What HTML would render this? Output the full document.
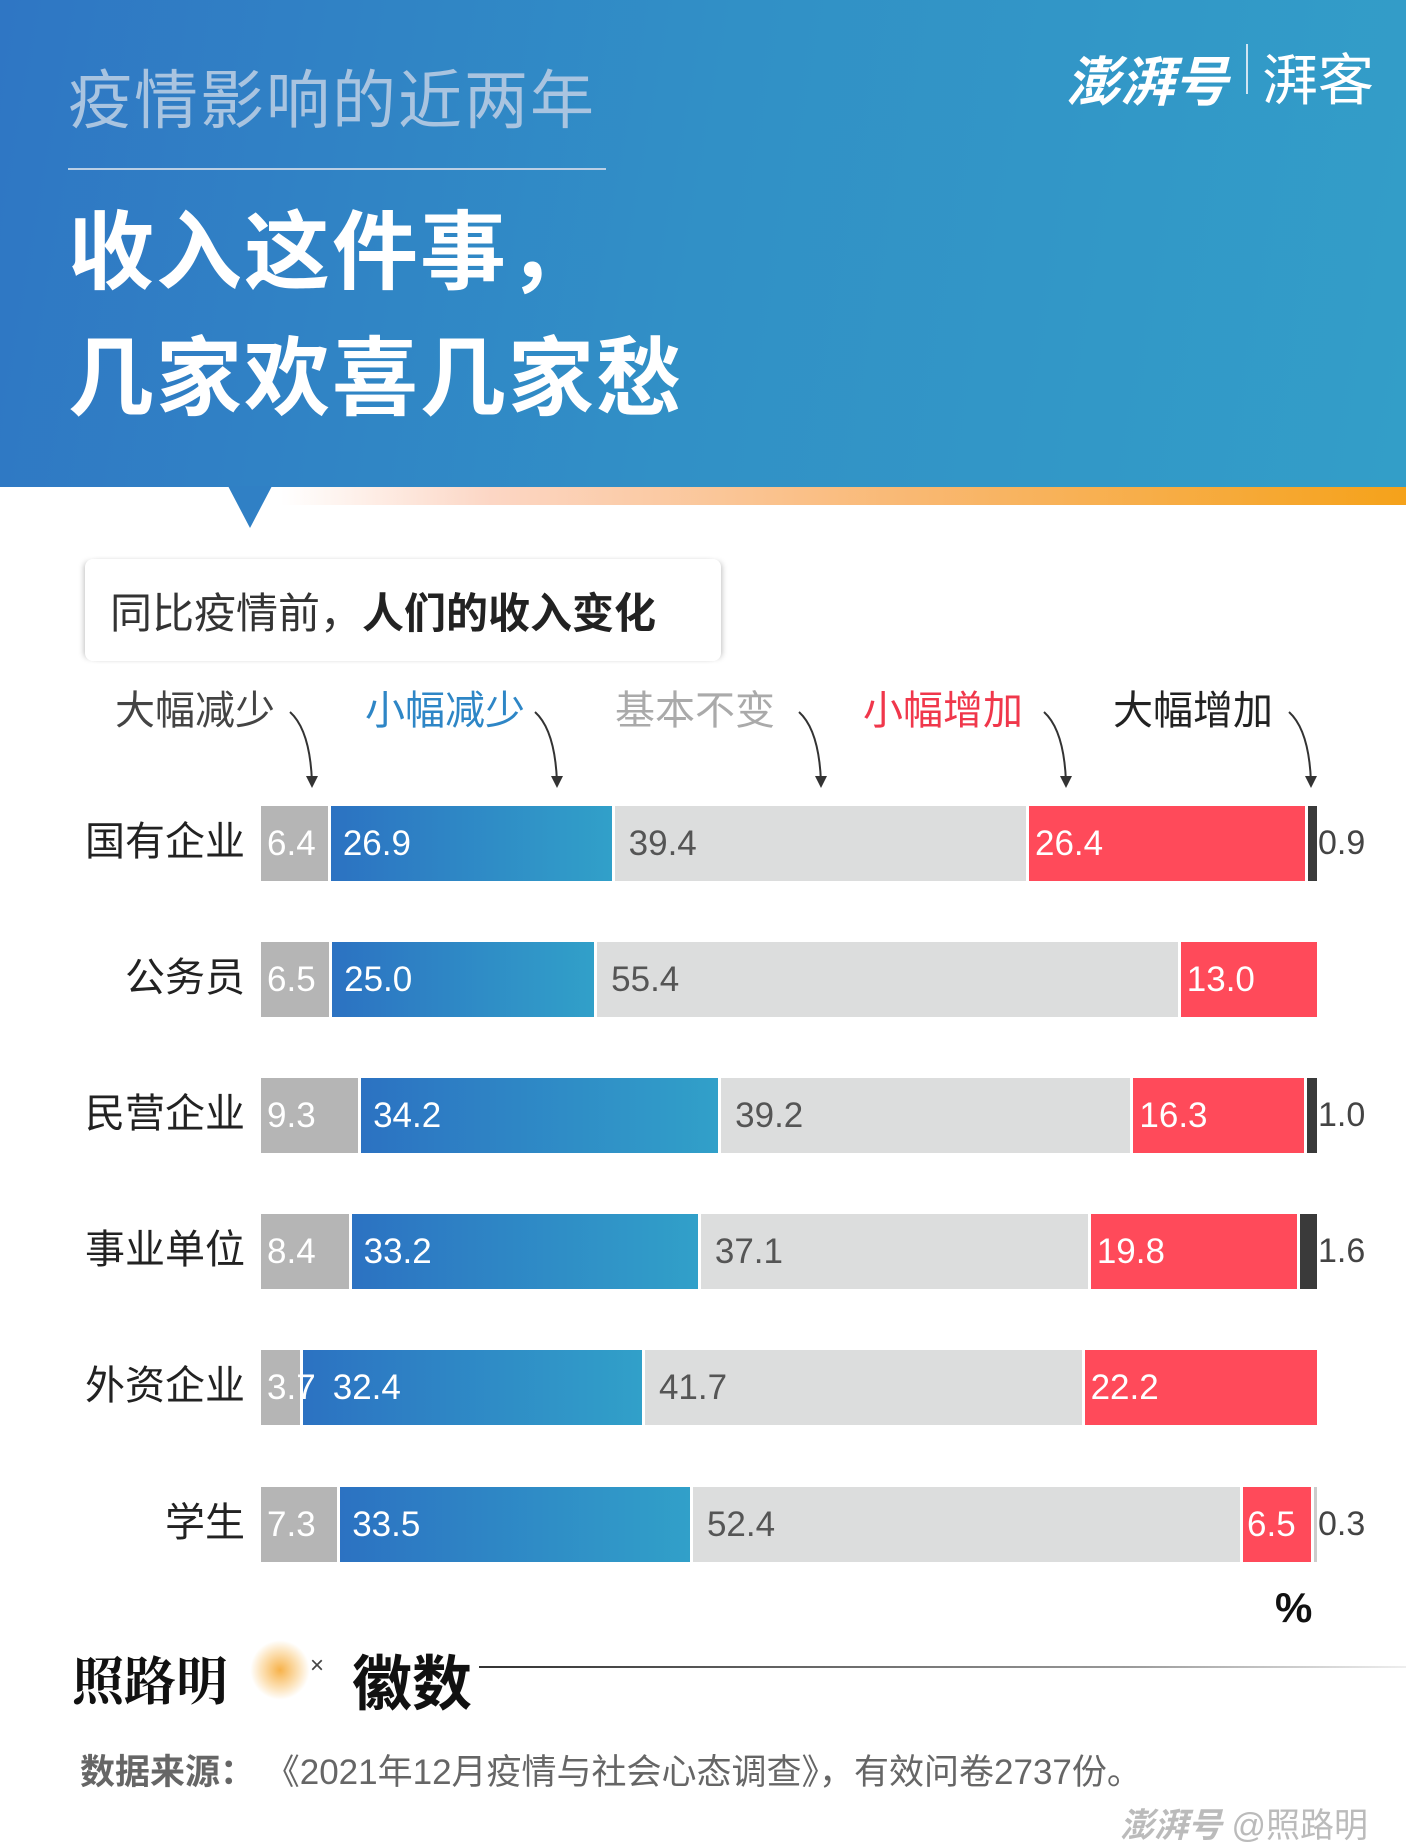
<!DOCTYPE html>
<html><head><meta charset="utf-8"><style>
*{margin:0;padding:0;box-sizing:border-box}
body{width:1406px;height:1847px;position:relative;background:#fff;font-family:"Liberation Sans","Noto Sans CJK SC",sans-serif;overflow:hidden}
.hdr{position:absolute;left:0;top:0;width:1406px;height:487px;background:linear-gradient(100deg,#2f76c4 0%,#3190c6 50%,#339ec8 100%)}
.strip{position:absolute;left:0;top:487px;width:1406px;height:18px;background:linear-gradient(90deg,#fff 0%,#fff 20%,#fcd6c4 35%,#f9b872 65%,#f5a21a 100%)}
.tri{position:absolute;left:228px;top:486px;width:0;height:0;border-left:22px solid transparent;border-right:22px solid transparent;border-top:42px solid #3080c5}
.t{position:absolute;white-space:nowrap}
.row{position:absolute;left:261px;width:1056px;height:75px;display:flex}
.s{height:100%;flex-basis:0;margin-right:3px;position:relative;color:#fff;font-size:35px;line-height:75px;overflow:visible;white-space:nowrap;min-width:0}
.s span{position:absolute;left:6px;top:0;z-index:2}
.g1{background:#b5b5b5}
.bl{background:linear-gradient(90deg,#2c72c2,#31a0c9)}
.bl span{left:12px}
.g2{background:#dcdddd;color:#555}
.g2 span{left:14px}
.r{background:#ff4a5a}
.d{background:#3a3a3a}
.cat{position:absolute;right:1161px;font-size:40px;color:#222;line-height:75px}
.out{position:absolute;left:1318px;font-size:34px;color:#444;line-height:75px}
</style></head><body>
<div class="hdr"></div>
<div class="strip"></div>
<div class="tri"></div>
<div class="t" style="left:68px;top:50px;font-size:64px;color:#a9c4e0;letter-spacing:2px">疫情影响的近两年</div>
<div style="position:absolute;left:68px;top:168px;width:538px;height:2px;background:#b9cfe6"></div>
<div class="t" style="left:68px;top:182px;font-size:86px;font-weight:bold;color:#fff;letter-spacing:2px">收入这件事，</div>
<div class="t" style="left:68px;top:308px;font-size:86px;font-weight:bold;color:#fff;letter-spacing:2px">几家欢喜几家愁</div>
<div class="t" style="left:1066px;top:38px;font-size:54px;font-weight:bold;font-style:italic;color:#fff">澎湃号</div>
<div style="position:absolute;left:1246px;top:44px;width:2px;height:50px;background:#d0e4f2"></div>
<div class="t" style="left:1262px;top:36px;font-size:56px;color:#fff">湃客</div>

<div style="position:absolute;left:85px;top:559px;width:636px;height:102px;background:#fff;box-shadow:-4px 0 6px -3px rgba(0,0,0,.25),4px 0 6px -3px rgba(0,0,0,.25);border-radius:8px"></div>
<div class="t" style="left:110px;top:580px;font-size:42px;color:#333">同比疫情前，<b style="color:#222">人们的收入变化</b></div>

<div class="t" style="left:115px;top:678px;font-size:40px;color:#444">大幅减少</div>
<div class="t" style="left:365px;top:678px;font-size:40px;color:#2e86c6">小幅减少</div>
<div class="t" style="left:615px;top:678px;font-size:40px;color:#aaa">基本不变</div>
<div class="t" style="left:863px;top:678px;font-size:40px;color:#f0374b">小幅增加</div>
<div class="t" style="left:1113px;top:678px;font-size:40px;color:#222">大幅增加</div>
<svg style="position:absolute;left:0;top:0" width="1406" height="800">
<g fill="none" stroke="#333" stroke-width="2">
<path d="M290 712 Q310 730 312 782"/><path d="M535 712 Q555 730 557 782"/><path d="M799 712 Q819 730 821 782"/><path d="M1044 712 Q1064 730 1066 782"/><path d="M1289 712 Q1309 730 1311 782"/>
</g>
<g fill="#333"><path d="M306 776 L318 776 L312 788Z"/><path d="M551 776 L563 776 L557 788Z"/><path d="M815 776 L827 776 L821 788Z"/><path d="M1060 776 L1072 776 L1066 788Z"/><path d="M1305 776 L1317 776 L1311 788Z"/></g>
</svg>

<div class="cat" style="top:805px">国有企业</div>
<div class="row" style="top:806px"><div class="s g1" style="flex-grow:6.4"><span>6.4</span></div><div class="s bl" style="flex-grow:26.9"><span>26.9</span></div><div class="s g2" style="flex-grow:39.4"><span>39.4</span></div><div class="s r" style="flex-grow:26.4"><span>26.4</span></div><div class="s d" style="flex-grow:0.9;margin-right:0"></div></div>
<div class="out" style="top:806px">0.9</div>

<div class="cat" style="top:941px">公务员</div>
<div class="row" style="top:942px"><div class="s g1" style="flex-grow:6.5"><span>6.5</span></div><div class="s bl" style="flex-grow:25"><span>25.0</span></div><div class="s g2" style="flex-grow:55.4"><span>55.4</span></div><div class="s r" style="flex-grow:13;margin-right:0"><span>13.0</span></div></div>

<div class="cat" style="top:1077px">民营企业</div>
<div class="row" style="top:1078px"><div class="s g1" style="flex-grow:9.3"><span>9.3</span></div><div class="s bl" style="flex-grow:34.2"><span>34.2</span></div><div class="s g2" style="flex-grow:39.2"><span>39.2</span></div><div class="s r" style="flex-grow:16.3"><span>16.3</span></div><div class="s d" style="flex-grow:1;margin-right:0"></div></div>
<div class="out" style="top:1078px">1.0</div>

<div class="cat" style="top:1213px">事业单位</div>
<div class="row" style="top:1214px"><div class="s g1" style="flex-grow:8.4"><span>8.4</span></div><div class="s bl" style="flex-grow:33.2"><span>33.2</span></div><div class="s g2" style="flex-grow:37.1"><span>37.1</span></div><div class="s r" style="flex-grow:19.8"><span>19.8</span></div><div class="s d" style="flex-grow:1.6;margin-right:0"></div></div>
<div class="out" style="top:1214px">1.6</div>

<div class="cat" style="top:1349px">外资企业</div>
<div class="row" style="top:1350px"><div class="s g1" style="flex-grow:3.7;z-index:2"><span>3.7</span></div><div class="s bl" style="flex-grow:32.4"><span style="left:30px">32.4</span></div><div class="s g2" style="flex-grow:41.7"><span>41.7</span></div><div class="s r" style="flex-grow:22.2;margin-right:0"><span>22.2</span></div></div>

<div class="cat" style="top:1486px">学生</div>
<div class="row" style="top:1487px"><div class="s g1" style="flex-grow:7.3"><span>7.3</span></div><div class="s bl" style="flex-grow:33.5"><span>33.5</span></div><div class="s g2" style="flex-grow:52.4"><span>52.4</span></div><div class="s r" style="flex-grow:6.5"><span style="left:4px">6.5</span></div><div class="s" style="flex-grow:0.3;margin-right:0;background:#ccc"></div></div>
<div class="out" style="top:1487px">0.3</div>

<div class="t" style="left:1275px;top:1584px;font-size:42px;font-weight:bold;color:#111">%</div>

<div style="position:absolute;left:250px;top:1640px;width:60px;height:60px;border-radius:50%;background:radial-gradient(circle,#f7b24a 0%,rgba(250,200,120,.5) 45%,rgba(255,255,255,0) 70%)"></div>
<div class="t" style="left:72px;top:1640px;font-size:52px;font-weight:bold;color:#111;font-family:'Noto Serif CJK SC',serif">照路明</div>
<div class="t" style="left:310px;top:1652px;font-size:24px;color:#444">×</div>
<div class="t" style="left:352px;top:1636px;font-size:60px;font-weight:bold;color:#111">徽数</div>
<div style="position:absolute;left:479px;top:1666px;width:927px;height:2px;background:linear-gradient(90deg,#333,#999 70%,#eee)"></div>
<div class="t" style="left:80px;top:1744px;font-size:35px;color:#666"><b style="color:#666">数据来源：</b> 《2021年12月疫情与社会心态调查》，有效问卷2737份。</div>
<div class="t" style="left:1120px;top:1798px;font-size:34px;color:#bbb"><i><b>澎湃号</b></i> @照路明</div>
</body></html>
